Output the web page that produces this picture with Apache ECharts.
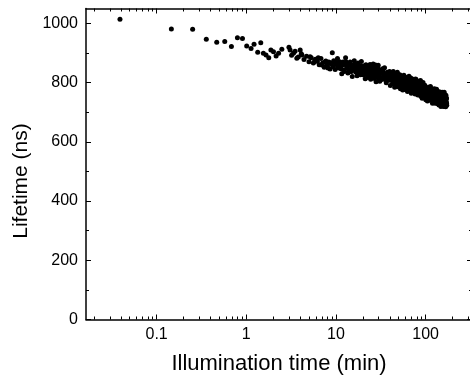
<!DOCTYPE html>
<html>
<head>
<meta charset="utf-8">
<script src="https://cdn.jsdelivr.net/npm/echarts@6.0.0/dist/echarts.min.js"></script>
<style>
html, body { margin: 0; padding: 0; background: #fff; overflow: hidden; }
/* a little wider than the window: the right frame line sits just off the picture */
#chart { width: 474px; height: 380px; }
</style>
</head>
<body>
<div id="chart"></div>
<script>
var timeMin = [
	0.039, 0.146, 0.252, 0.358, 0.468, 0.575, 0.682, 0.796, 0.906, 1.01,
	1.13, 1.22, 1.34, 1.45, 1.55, 1.66, 1.78, 1.88, 2.01, 2.15,
	2.29, 2.49, 2.99, 3.08, 3.2, 3.36, 3.5, 3.66, 3.8, 3.99,
	4.1, 4.17, 4.4, 4.7, 5.0, 5.3, 5.6, 5.9, 6.2, 6.5,
	6.8, 7.1, 7.4, 7.7, 8.0, 8.3, 8.6, 8.9, 9.1, 9.3,
	9.6, 9.8, 10.0,
	10.4, 10.8, 11.2, 11.6, 12.0, 12.4, 12.8, 13.2, 13.6, 14.0,
	14.4, 14.8, 15.2, 15.6, 16.0, 16.4, 16.8, 17.2, 17.6, 18.0,
	18.4, 18.8, 19.2, 19.6, 20.0, 20.4, 20.8, 21.2, 21.6, 22.0,
	22.4, 22.8, 23.2, 23.6, 24.0, 24.4, 24.8, 25.2, 25.6, 26.0,
	26.4, 26.8, 27.2, 27.6, 28.0, 28.4, 28.8, 29.2, 29.6, 30.0,
	30.8, 31.6, 32.4, 33.2, 34.0, 34.8, 35.6, 36.4, 37.2, 38.0,
	38.8, 39.6, 40.4, 41.2, 42.0, 42.8, 43.6, 44.4, 45.2, 46.0,
	46.8, 47.6, 48.4, 49.2, 50.0, 50.8, 51.6, 52.4, 53.2, 54.0,
	54.8, 55.6, 56.4, 57.2, 58.0, 58.8, 59.6, 60.4, 61.2, 62.0,
	62.8, 63.6, 64.4, 65.2, 66.0, 66.8, 67.6, 68.4, 69.2, 70.0,
	70.8, 71.6, 72.4, 73.2, 74.0, 74.8, 75.6, 76.4, 77.2, 78.0,
	78.8, 79.6, 80.4, 81.2, 82.0, 82.8, 83.6, 84.4, 85.2, 86.0,
	86.8, 87.6, 88.4, 89.2, 90.0, 90.8, 91.6, 92.4, 93.2, 93.5,
	94.0, 94.8, 95.6, 96.4, 97.2, 98.0, 98.8, 99.6, 100.4,
	101.2, 102.4, 103.6, 104.8, 106.0, 107.2, 108.4, 109.6, 110.8, 112.0,
	113.2, 114.4, 115.6, 116.8, 118.0, 119.2, 120.4, 121.6, 122.8, 124.0,
	125.2, 126.4, 127.6, 128.8, 130.0, 131.2, 132.4, 133.6, 134.8, 136.0,
	137.2, 138.4, 139.6, 140.8, 142.0, 143.2, 144.4, 145.6, 146.8, 148.0,
	149.2, 150.4, 151.6, 152.8, 154.0, 155.2, 156.4, 157.6, 158.8, 160.0,
	161.2, 162.4, 163.6, 164.8, 166.0, 167.2, 168.4, 169.6, 170.8, 172.0,
	// the dense core of the cloud, between the points above
	5.15, 5.75, 6.35, 6.95, 7.55, 8.15, 8.75, 9.45,
	10.2, 10.6, 11.0, 11.4, 11.8, 12.2, 12.6, 13.0, 13.4, 13.8,
	14.2, 14.6, 15.0, 15.4, 15.8, 16.2, 16.6, 17.0, 17.4, 17.8,
	18.2, 18.6, 19.0, 19.4, 19.8, 20.2, 20.6, 21.0, 21.4, 21.8,
	22.2, 22.6, 23.0, 23.4, 23.8, 24.2, 24.6, 25.0, 25.4, 25.8,
	26.2, 26.6, 27.0, 27.4, 27.8, 28.2, 28.6, 29.0, 29.4, 29.8,
	30.4, 31.2, 32.0, 32.8, 33.6, 34.4, 35.2, 36.0, 36.8, 37.6,
	38.4, 39.2, 40.0, 40.8, 41.6, 42.4, 43.2, 44.0, 44.8, 45.6,
	46.4, 47.2, 48.0, 48.8, 49.6, 50.4, 51.2, 52.0, 52.8, 53.6,
	54.4, 55.2, 56.0, 56.8, 57.6, 58.4, 59.2, 60.0, 60.8, 61.6,
	62.4, 63.2, 64.0, 64.8, 65.6, 66.4, 67.2, 68.0, 68.8, 69.6,
	70.4, 71.2, 72.0, 72.8, 73.6, 74.4, 75.2, 76.0, 76.8, 77.6,
	78.4, 79.2, 80.0, 80.8, 81.6, 82.4, 83.2, 84.0, 84.8, 85.6,
	86.4, 87.2, 88.0, 88.8, 89.6, 90.4, 91.2, 92.0, 92.8, 93.6,
	94.4, 95.2, 96.0, 96.8, 97.6, 98.4, 99.2, 100.0,
	100.6, 101.8, 103.0, 104.2, 105.4, 106.6, 107.8, 109.0, 110.2, 111.4,
	112.6, 113.8, 115.0, 116.2, 117.4, 118.6, 119.8, 121.0, 122.2, 123.4,
	124.6, 125.8, 127.0, 128.2, 129.4, 130.6, 131.8, 133.0, 134.2, 135.4,
	136.6, 137.8, 139.0, 140.2, 141.4, 142.6, 143.8, 145.0, 146.2, 147.4,
	148.6, 149.8, 151.0, 152.2, 153.4, 154.6, 155.8, 157.0, 158.2, 159.4,
	160.6, 161.8, 163.0, 164.2, 165.4, 166.6, 167.8, 169.0, 170.2, 171.4
];
var lifetimeNs = [
	1014, 981, 980, 946, 936, 939, 922, 951, 949, 923,
	915, 929, 902, 934, 899, 893, 884, 910, 904, 890,
	899, 912, 919, 910, 892, 899, 906, 882, 886, 910,
	897, 893, 878, 889, 870, 884, 866, 879, 872, 860,
	881, 866, 852, 873, 858, 869, 846, 862, 901, 853,
	870, 844, 861,
	881, 849, 861, 830, 869, 837, 884, 851, 832, 860,
	869, 837, 820, 850, 874, 841, 859, 823, 866, 834,
	851, 826, 871, 842, 826, 856, 844, 813, 860, 830,
	848, 817, 854, 833, 861, 811, 836, 848, 820, 863,
	826, 814, 838, 859, 803, 842, 827, 854, 858, 845,
	804, 835, 810, 847, 823, 850, 812, 799, 823, 833,
	813, 837, 790, 827, 819, 796, 837, 803, 784, 826,
	810, 794, 835, 786, 813, 801, 826, 779, 815, 791,
	819, 775, 805, 825, 784, 798, 818, 776, 806, 811,
	770, 798, 787, 821, 777, 803, 788, 815, 764, 807,
	779, 796, 811, 770, 788, 777, 804, 761, 812, 810,
	777, 762, 788, 802, 758, 792, 779, 804, 764, 786,
	765, 807, 754, 778, 792, 766, 747, 785, 792, 800,
	767, 779, 750, 784, 762, 791, 753, 769, 742,
	783, 754, 769, 738, 775, 760, 784, 745, 769, 740,
	787, 754, 745, 774, 759, 730, 777, 747, 766, 736,
	779, 752, 730, 766, 759, 737, 777, 739, 754, 728,
	767, 742, 760, 724, 769, 744, 729, 756, 760, 719,
	764, 744, 731, 767, 723, 750, 732, 758, 719, 746,
	767, 725, 742, 732, 752, 718, 757, 733, 747, 723,
	887, 870, 884, 859, 869, 849, 867, 874,
	868, 854, 870, 847, 859, 842, 861, 869, 851, 843,
	863, 838, 851, 858, 843, 862, 836, 851, 843, 856,
	837, 857, 831, 848, 841, 849, 826, 843, 852, 833,
	855, 835, 828, 844, 848, 824, 836, 845, 828, 849,
	830, 837, 822, 843, 831, 847, 822, 836, 816, 837,
	824, 839, 815, 831, 838, 816, 825, 808, 830, 835,
	816, 808, 824, 815, 829, 807, 817, 824, 798, 818,
	805, 823, 797, 808, 814, 793, 804, 816, 796, 807,
	789, 811, 798, 808, 784, 803, 812, 792, 787, 808,
	795, 802, 783, 808, 786, 796, 802, 779, 797, 788,
	804, 782, 797, 778, 792, 803, 781, 774, 796, 783,
	793, 774, 788, 796, 776, 771, 787, 781, 766, 790,
	773, 787, 774, 790, 765, 778, 767, 786, 758, 779,
	771, 762, 780, 765, 781, 756, 772, 760,
	776, 758, 768, 752, 777, 759, 770, 748, 766, 772,
	751, 761, 746, 773, 752, 767, 755, 746, 768, 748,
	759, 770, 744, 760, 750, 739, 763, 754, 744, 764,
	738, 757, 748, 759, 733, 753, 759, 742, 737, 760,
	734, 748, 754, 731, 750, 739, 754, 734, 743, 730,
	757, 735, 749, 730, 744, 726, 751, 736, 745, 729
];

var xMajorTicks = [0.1, 1, 10, 100];
var xMinorTicks = [0.02, 0.03, 0.04, 0.05, 0.06, 0.07, 0.08, 0.09,
	0.2, 0.3, 0.4, 0.5, 0.6, 0.7, 0.8, 0.9,
	2, 3, 4, 5, 6, 7, 8, 9,
	20, 30, 40, 50, 60, 70, 80, 90,
	200, 300];
var yMajorTicks = [0, 200, 400, 600, 800, 1000];
var yMinorTicks = [100, 300, 500, 700, 900];

var X_MIN = 0.0163, X_MAX = 329;
var Y_MIN = 0, Y_MAX = 1050;
var FONT = '"Liberation Sans", Arial, Helvetica, sans-serif';

// one axis = one set of inward ticks; the frame is built from several of these
function xAxisDef(position, ticks, len, showLine, showLabels) {
	return {
		type: 'log',
		logBase: 10,
		position: position,
		min: X_MIN,
		max: X_MAX,
		axisLine: { show: showLine, onZero: false, lineStyle: { color: '#000', width: 1.5 } },
		axisTick: { show: true, inside: true, length: len, customValues: ticks,
			lineStyle: { color: '#000', width: 1 } },
		axisLabel: { show: showLabels, customValues: ticks, margin: 7,
			color: '#000', fontSize: 16, fontFamily: FONT,
			formatter: function(v) { return String(v); } },
		splitLine: { show: false },
		minorTick: { show: false },
		minorSplitLine: { show: false }
	};
}

function yAxisDef(position, ticks, len, showLine, showLabels) {
	return {
		type: 'value',
		position: position,
		min: Y_MIN,
		max: Y_MAX,
		axisLine: { show: showLine, onZero: false, lineStyle: { color: '#000', width: 1.5 } },
		axisTick: { show: true, inside: true, length: len, customValues: ticks,
			lineStyle: { color: '#000', width: 1 } },
		axisLabel: { show: showLabels, customValues: ticks, margin: 8,
			color: '#000', fontSize: 16, fontFamily: FONT,
			formatter: function(v) { return String(v); } },
		splitLine: { show: false }
	};
}

var xBottom = xAxisDef('bottom', xMajorTicks, 5, true, true);
xBottom.name = 'Illumination time (min)';
xBottom.nameLocation = 'middle';
xBottom.nameGap = 33;
xBottom.nameTextStyle = { color: '#000', fontSize: 22, fontFamily: FONT };

var yLeft = yAxisDef('left', yMajorTicks, 5, true, true);
yLeft.name = 'Lifetime (ns)';
yLeft.nameLocation = 'middle';
yLeft.nameGap = 50;
// right padding (along the rotated text) nudges the title down, as in the original
yLeft.nameTextStyle = { color: '#000', fontSize: 21, fontFamily: FONT, padding: [0, 34, 0, 0] };

var points = [];
for (var i = 0; i < timeMin.length; i++) {
	points.push([timeMin[i], lifetimeNs[i]]);
}

var chart = echarts.init(document.getElementById('chart'), null, { renderer: 'canvas' });

var option = {
	animation: false,
	backgroundColor: '#fff',
	grid: { left: 86, right: 2, top: 8.5, bottom: 60.5, containLabel: false },
	xAxis: [
		xBottom,
		xAxisDef('bottom', xMinorTicks, 3, false, false),
		xAxisDef('top', xMajorTicks, 5, true, false),
		xAxisDef('top', xMinorTicks, 3, false, false)
	],
	yAxis: [
		yLeft,
		yAxisDef('left', yMinorTicks, 3, false, false),
		yAxisDef('right', yMajorTicks, 5, true, false),
		yAxisDef('right', yMinorTicks, 3, false, false)
	],
	series: [{
		type: 'scatter',
		xAxisIndex: 0,
		yAxisIndex: 0,
		data: points,
		symbol: 'circle',
		symbolSize: 5,
		itemStyle: { color: '#000', opacity: 1 }
	}]
};

chart.setOption(option);
</script>
</body>
</html>
